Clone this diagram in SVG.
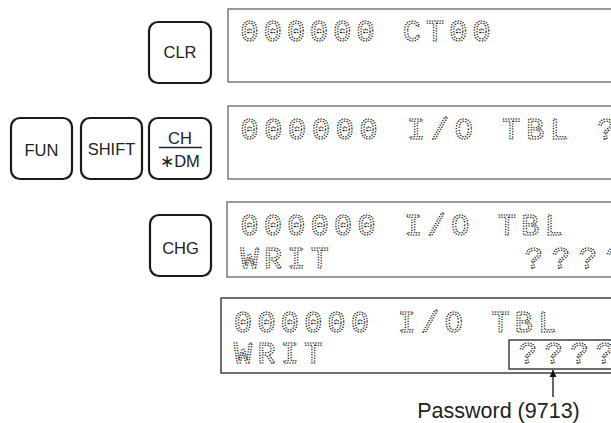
<svg xmlns="http://www.w3.org/2000/svg" width="611" height="423" viewBox="0 0 611 423">
<style>
.key{fill:#fff;stroke:#1a1a1a;stroke-width:2.2}
.kt{font-family:"Liberation Sans",Arial,sans-serif;font-size:16.5px;fill:#222;text-anchor:middle}
.disp{fill:#fff;stroke:#666;stroke-width:1.3}
.disp4{fill:#fff;stroke:#222;stroke-width:1.3}
.lcd{font-family:"Liberation Mono","DejaVu Sans Mono",monospace;font-size:30px;fill:none;stroke:#1e1e1e;stroke-width:1.5;stroke-linecap:round;stroke-dasharray:0.01 2.6;letter-spacing:5.4px}
.lbl{font-family:"Liberation Sans",Arial,sans-serif;font-size:21.5px;fill:#222;text-anchor:middle}
</style>
<defs>
<marker id="ah" viewBox="0 0 10 10" refX="10" refY="5" markerWidth="7" markerHeight="9" markerUnits="userSpaceOnUse" orient="auto">
<path d="M0,0 L10,5 L0,10 Z" fill="#111"/>
</marker>
</defs>

<g id="key-clr">
<rect class="key" x="149" y="22" width="62" height="61" rx="9"/>
<text class="kt" x="180" y="58">CLR</text>
</g>
<g id="key-fun">
<rect class="key" x="11" y="118" width="61" height="61" rx="9"/>
<text class="kt" x="41.5" y="156">FUN</text>
</g>
<g id="key-shift">
<rect class="key" x="81" y="118" width="61" height="61" rx="9"/>
<text class="kt" x="111.5" y="155">SHIFT</text>
</g>
<g id="key-ch-dm">
<rect class="key" x="149" y="118" width="62" height="61" rx="9"/>
<text class="kt" x="180" y="144">CH</text>
<line x1="159" y1="147.5" x2="202" y2="147.5" stroke="#222" stroke-width="1.5"/>
<text class="kt" x="180" y="167">∗DM</text>
</g>
<g id="key-chg">
<rect class="key" x="150" y="215" width="61" height="61" rx="9"/>
<text class="kt" x="180.5" y="254">CHG</text>
</g>

<g id="display-1">
<rect class="disp" x="228" y="9" width="420" height="73"/>
<text class="lcd" x="240.5" y="41" style="letter-spacing:5.2px">000000 CT00</text>
</g>
<g id="display-2">
<rect class="disp" x="228" y="106" width="420" height="73"/>
<text class="lcd" x="240.5" y="139" style="letter-spacing:5.8px">000000 I/O TBL ?</text>
</g>
<g id="display-3">
<rect class="disp" x="227" y="202" width="420" height="75"/>
<text class="lcd" x="240.5" y="235">000000 I/O TBL</text>
<text class="lcd" x="240.5" y="268">WRIT</text>
<text class="lcd" x="525" y="268" style="letter-spacing:9px">????</text>
</g>
<g id="display-4">
<rect class="disp4" x="221" y="298" width="420" height="75"/>
<text class="lcd" x="234" y="332">000000 I/O TBL</text>
<text class="lcd" x="234" y="363">WRIT</text>
<rect x="509" y="340" width="130" height="29" fill="none" stroke="#222" stroke-width="1.3"/>
<text class="lcd" x="519" y="363" style="letter-spacing:7.7px">????</text>
</g>

<g id="connectors">
<line x1="553" y1="397" x2="553" y2="370" stroke="#111" stroke-width="1.3" marker-end="url(#ah)"/>
</g>
<g id="label-password">
<text class="lbl" x="498.5" y="418">Password (9713)</text>
</g>
</svg>
